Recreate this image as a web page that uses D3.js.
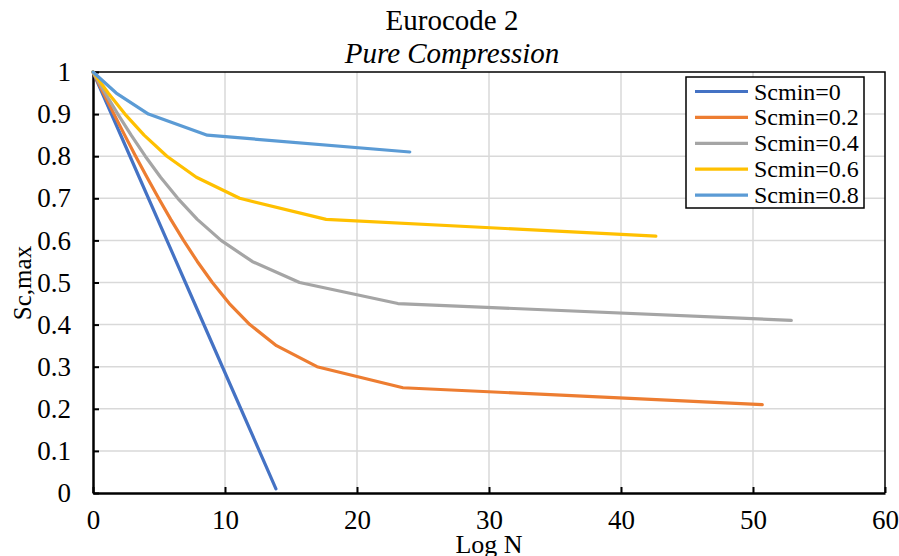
<!DOCTYPE html>
<html>
<head>
<meta charset="utf-8">
<script src="https://cdn.jsdelivr.net/npm/d3@7"></script>
<style>
  body { margin: 0; background: #fff; }
  text { font-family: "Liberation Serif", "Times New Roman", serif; fill: #000; }
</style>
</head>
<body>
<svg id="chart" width="899" height="556"></svg>
<script>
// series labels and colours
const seriesNames = ['Scmin=0', 'Scmin=0.2', 'Scmin=0.4', 'Scmin=0.6', 'Scmin=0.8'];
const seriesColors = ['#4472C4', '#ED7D31', '#A5A5A5', '#FFC000', '#5B9BD5'];

// Log N values and matching Sc,max for each series
const logN0 = [0, 3.5, 7, 10.5, 13.86];
const sc0 = [1, 0.75, 0.5, 0.25, 0.01];

const logN2 = [0, 0.79, 1.59, 2.4, 3.23, 4.09, 4.97, 5.89, 6.86, 7.9, 9.04, 10.33, 11.88, 13.9, 16.97, 23.48, 50.7];
const sc2 = [1, 0.95, 0.9, 0.85, 0.8, 0.75, 0.7, 0.65, 0.6, 0.55, 0.5, 0.45, 0.4, 0.35, 0.3, 0.25, 0.21];

const logN4 = [0, 0.92, 1.88, 2.89, 3.96, 5.12, 6.42, 7.9, 9.7, 12.06, 15.65, 23.1, 52.9];
const sc4 = [1, 0.95, 0.9, 0.85, 0.8, 0.75, 0.7, 0.65, 0.6, 0.55, 0.5, 0.45, 0.41];

const logN6 = [0, 1.15, 2.42, 3.87, 5.6, 7.83, 11.11, 17.66, 42.64];
const sc6 = [1, 0.95, 0.9, 0.85, 0.8, 0.75, 0.7, 0.65, 0.61];

const logN8 = [0, 1.76, 4.2, 8.66, 24.0];
const sc8 = [1, 0.95, 0.9, 0.85, 0.81];

const xTicks = [0, 10, 20, 30, 40, 50, 60];
const yTicks = [0, 0.1, 0.2, 0.3, 0.4, 0.5, 0.6, 0.7, 0.8, 0.9, 1];

const serif = '"Liberation Serif", "Times New Roman", serif';

const series = [
  [logN0, sc0], [logN2, sc2], [logN4, sc4], [logN6, sc6], [logN8, sc8]
].map(([xs, ys], i) => ({
  name: seriesNames[i],
  color: seriesColors[i],
  points: xs.map((x, j) => ({ x: x, y: ys[j] }))
}));

const svg = d3.select('#chart');
const plotLeft = 93, plotRight = 885, plotTop = 72, plotBottom = 493;

const x = d3.scaleLinear().domain([0, 60]).range([plotLeft, plotRight]);
const y = d3.scaleLinear().domain([0, 1]).range([plotBottom, plotTop]);

// gridlines
svg.append('g')
  .selectAll('line')
  .data(xTicks.slice(1, -1))
  .enter()
  .append('line')
  .attr('x1', d => x(d)).attr('x2', d => x(d))
  .attr('y1', plotTop).attr('y2', plotBottom)
  .attr('stroke', '#d9d9d9').attr('stroke-width', 1.5);

svg.append('g')
  .selectAll('line')
  .data(yTicks.slice(1, -1))
  .enter()
  .append('line')
  .attr('x1', plotLeft).attr('x2', plotRight)
  .attr('y1', d => y(d)).attr('y2', d => y(d))
  .attr('stroke', '#d9d9d9').attr('stroke-width', 1.5);

// frame top and right
svg.append('path')
  .attr('d', `M${plotLeft},${plotTop}H${plotRight}V${plotBottom}`)
  .attr('fill', 'none').attr('stroke', '#000').attr('stroke-width', 1.5);

// axes with inside ticks
const xAxis = svg.append('g')
  .attr('transform', `translate(0,${plotBottom})`)
  .call(d3.axisBottom(x).tickValues(xTicks).tickSizeInner(-6).tickSizeOuter(0).tickPadding(17).tickFormat(d3.format('d')));
const yAxis = svg.append('g')
  .attr('transform', `translate(${plotLeft},0)`)
  .call(d3.axisLeft(y).tickValues(yTicks).tickSizeInner(-6).tickSizeOuter(0).tickPadding(22).tickFormat(d => d === 0 || d === 1 ? d3.format('d')(d) : d3.format('.1f')(d)));

[xAxis, yAxis].forEach(ax => {
  ax.attr('font-family', serif).attr('font-size', 27);
  ax.select('.domain').attr('stroke', '#000').attr('stroke-width', 2.5);
  ax.selectAll('.tick line').attr('stroke', '#000').attr('stroke-width', 2);
  ax.selectAll('.tick text').style('font-family', serif).style('font-size', '27px').attr('fill', '#000');
});

// lines
const line = d3.line().x(d => x(d.x)).y(d => y(d.y));
svg.append('g')
  .selectAll('path')
  .data(series)
  .enter()
  .append('path')
  .attr('d', s => line(s.points))
  .attr('fill', 'none')
  .attr('stroke', s => s.color)
  .attr('stroke-width', 3.2)
  .attr('stroke-linejoin', 'round')
  .attr('stroke-linecap', 'round');

// titles
svg.append('text').attr('x', 452).attr('y', 30).attr('text-anchor', 'middle')
  .style('font-family', serif).style('font-size', '29px').text('Eurocode 2');
svg.append('text').attr('x', 452).attr('y', 63).attr('text-anchor', 'middle')
  .style('font-family', serif).style('font-size', '29px').style('font-style', 'italic').text('Pure Compression');

svg.append('text').attr('x', 489).attr('y', 553).attr('text-anchor', 'middle')
  .style('font-family', serif).style('font-size', '26px').text('Log N');
svg.append('text').attr('transform', `translate(31,283) rotate(-90)`).attr('text-anchor', 'middle')
  .style('font-family', serif).style('font-size', '25px').text('Sc,max');

// legend
const legend = svg.append('g');
legend.append('rect')
  .attr('x', 686).attr('y', 77).attr('width', 178).attr('height', 131)
  .attr('fill', '#fff').attr('stroke', '#000').attr('stroke-width', 1.5);

const rows = legend.selectAll('g.row')
  .data(series)
  .enter()
  .append('g')
  .attr('transform', (s, i) => `translate(0,${91.5 + i * 25.9})`);
rows.append('line')
  .attr('x1', 695).attr('x2', 748).attr('y1', 0).attr('y2', 0)
  .attr('stroke', s => s.color).attr('stroke-width', 3.2);
rows.append('text')
  .attr('x', 754).attr('y', 8)
  .style('font-family', serif)
  .style('font-size', '24px')
  .text(s => s.name);
</script>
</body>
</html>
